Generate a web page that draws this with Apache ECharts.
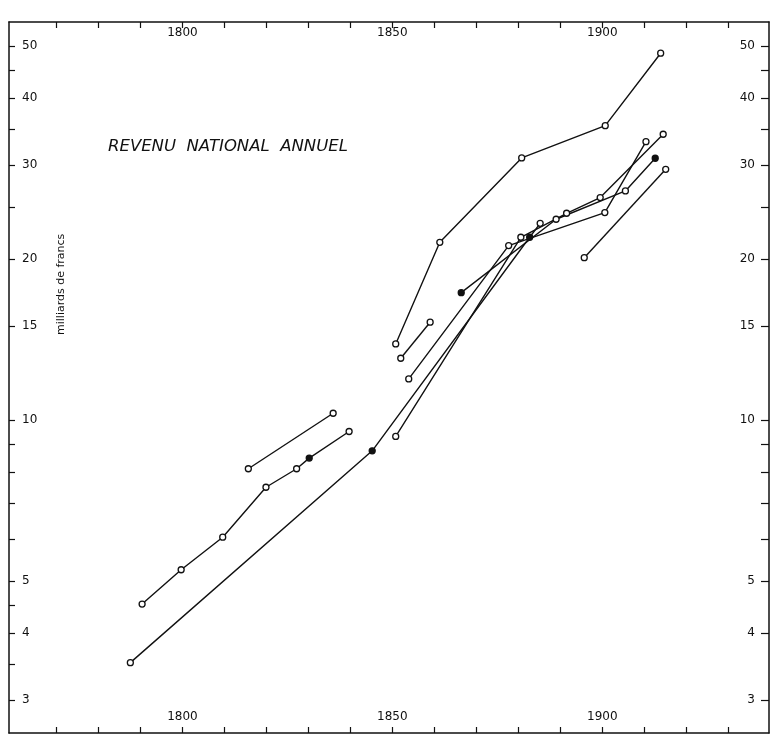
<!DOCTYPE html>
<html>
<head>
<meta charset="utf-8">
<script src="https://cdn.jsdelivr.net/npm/echarts@6/dist/echarts.min.js"></script>
<style>
  html, body { margin: 0; padding: 0; background: #fff; }
  #chart { width: 773px; height: 737px; }
</style>
</head>
<body>
<div id="chart"></div>
<script>
// revenu national annuel, milliards de francs (log scale), one array per estimate
const sTop = [[1850.8, 13.88], [1861.3, 21.5], [1880.8, 30.91], [1900.7, 35.52], [1913.9, 48.52]];
const sShort = [[1852, 13.05], [1859, 15.24]];
const sC = [[1853.9, 11.94], [1877.7, 21.2], [1900.6, 24.43], [1910.4, 33.16]];
const sD = [[1866.4, 17.31], [1889, 23.74], [1905.5, 26.82], [1912.6, 30.87]];
const sA = [[1850.8, 9.32], [1880.6, 21.97], [1891.5, 24.36], [1899.5, 26.06], [1914.5, 34.23]];
const sLow = [[1787.6, 3.52], [1845.2, 8.76], [1882.7, 21.97], [1885.2, 23.33]];
const sEarly = [[1790.4, 4.53], [1799.7, 5.25], [1809.6, 6.04], [1819.9, 7.49], [1827.2, 8.11], [1830.2, 8.49], [1839.7, 9.52]];
const sEarly2 = [[1815.7, 8.11], [1835.9, 10.3]];
const sLast = [[1895.7, 20.12], [1915.1, 29.44]];

// which points are drawn filled (index into the series)
const filled = { sD: [0, 3], sLow: [1, 2], sEarly: [5] };

const yearLabels = [1800, 1850, 1900];
const yearTicks = [1770, 1780, 1790, 1800, 1810, 1820, 1830, 1840, 1850, 1860, 1870, 1880, 1890, 1900, 1910, 1920, 1930];
const leftLabels = [3, 4, 5, 10, 15, 20, 30, 40, 50];
const leftTicks = [3, 3.5, 4, 4.5, 5, 6, 7, 8, 9, 10, 15, 20, 25, 30, 35, 40, 45, 50];
const rightLabels = [3, 4, 5, 10, 15, 20, 30, 40, 50];
const rightTicks = [3, 4, 5, 6, 7, 8, 9, 10, 15, 20, 25, 30, 35, 40, 45, 50];

const chart = echarts.init(document.getElementById('chart'));
const FONT = 'DejaVu Sans';
const INK = '#111';

function mkSeries(name, pts) {
  const idx = filled[name] || [];
  return {
    name,
    type: 'line',
    xAxisIndex: 0,
    yAxisIndex: 0,
    symbol: 'circle',
    symbolSize: 6,
    lineStyle: { color: INK, width: 1.4 },
    itemStyle: { color: '#fff', borderColor: INK, borderWidth: 1.3 },
    data: pts.map((p, i) => idx.includes(i) ? { value: p, itemStyle: { color: INK } } : p),
    z: 3,
  };
}

const xBase = (pos) => ({
  type: 'value',
  position: pos,
  min: 1758.7,
  max: 1939.7,
  axisLine: { show: true, onZero: false, lineStyle: { color: INK, width: 1.5 } },
  axisTick: { show: true, inside: true, length: 6, customValues: yearTicks, lineStyle: { color: INK, width: 1.2 } },
  axisLabel: {
    inside: true,
    customValues: yearLabels,
    formatter: (v) => String(v),
    color: INK,
    fontFamily: FONT,
    fontSize: 12,
    margin: pos === 'top' ? 5 : 10,
  },
  splitLine: { show: false },
});

const yBase = (pos, labels, ticks) => ({
  type: 'log',
  position: pos,
  min: 2.6,
  max: 55.5,
  axisLine: { show: true, onZero: false, lineStyle: { color: INK, width: 1.5 } },
  axisTick: { show: true, inside: true, length: pos === 'left' ? 6 : 8, customValues: ticks, lineStyle: { color: INK, width: 1.2 } },
  axisLabel: { inside: true, customValues: labels, color: INK, fontFamily: FONT, fontSize: 12, margin: pos === 'left' ? 13 : 14 },
  splitLine: { show: false },
});

chart.setOption({
  animation: false,
  backgroundColor: '#fff',
  grid: { left: 9, right: 4, top: 22, bottom: 4 },
  xAxis: [xBase('bottom'), xBase('top')],
  yAxis: [yBase('left', leftLabels, leftTicks), yBase('right', rightLabels, rightTicks)],
  graphic: [
    {
      type: 'text',
      left: 108,
      top: 138,
      style: { text: 'REVENU  NATIONAL  ANNUEL', font: 'italic 16.5px "DejaVu Sans"', fill: INK },
    },
    {
      type: 'text',
      x: 56,
      y: 335,
      rotation: Math.PI / 2,
      style: { text: 'milliards de francs', font: '11px "DejaVu Sans"', fill: INK },
    },
  ],
  series: [
    mkSeries('sTop', sTop),
    mkSeries('sShort', sShort),
    mkSeries('sC', sC),
    mkSeries('sD', sD),
    mkSeries('sA', sA),
    mkSeries('sLow', sLow),
    mkSeries('sEarly', sEarly),
    mkSeries('sEarly2', sEarly2),
    mkSeries('sLast', sLast),
  ],
});

window.addEventListener('resize', () => chart.resize());
</script>
</body>
</html>
